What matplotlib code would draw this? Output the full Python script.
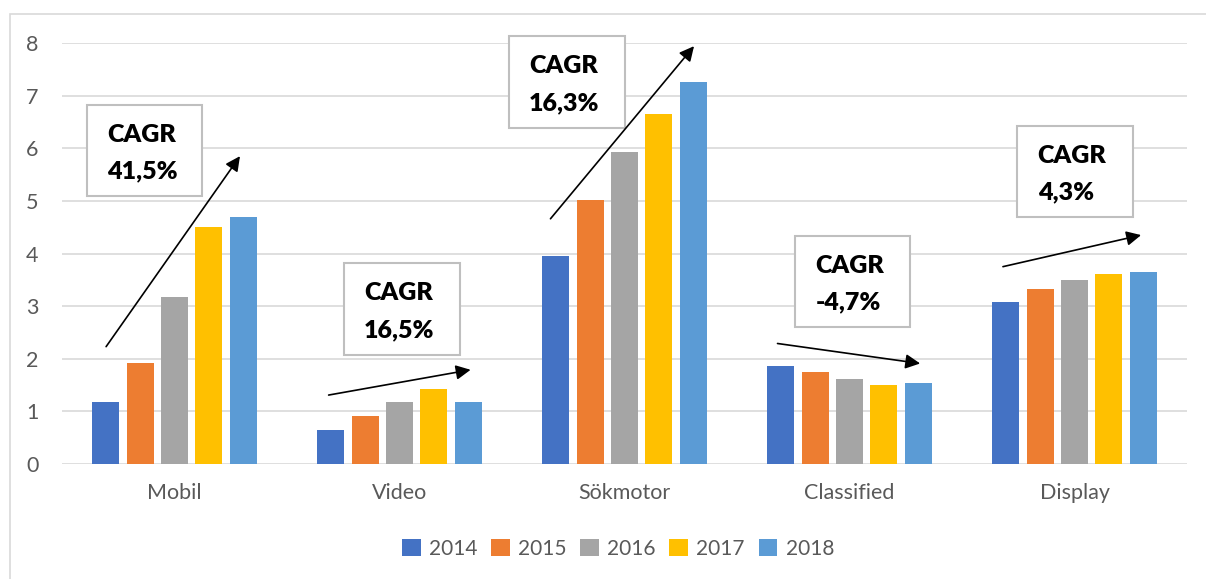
import matplotlib
matplotlib.use('Agg')
import matplotlib.pyplot as plt
import numpy as np
from matplotlib.patches import Rectangle

plt.rcParams['font.family'] = ['Lato', 'DejaVu Sans']

# Data
categories = ['Mobil', 'Video', 'Sökmotor', 'Classified', 'Display']
years = ['2014', '2015', '2016', '2017', '2018']
v2014 = [1.17, 0.65, 3.96, 1.86, 3.08]
v2015 = [1.91, 0.91, 5.02, 1.74, 3.32]
v2016 = [3.18, 1.17, 5.93, 1.62, 3.50]
v2017 = [4.50, 1.43, 6.65, 1.50, 3.61]
v2018 = [4.70, 1.18, 7.25, 1.53, 3.65]
cagr_labels = ['41,5%', '16,5%', '16,3%', '-4,7%', '4,3%']

series = [v2014, v2015, v2016, v2017, v2018]
colors = ['#4472C4', '#ED7D31', '#A5A5A5', '#FFC000', '#5B9BD5']

# Annotation layout (data coords): box (x0, x1, y_bottom, y_top), arrow (x0, y0, x1, y1)
boxes = [(-0.39, 0.122, 5.09, 6.82), (0.753, 1.269, 2.07, 3.82), (1.486, 2.002, 6.39, 8.14),
         (2.759, 3.270, 2.60, 4.33), (3.746, 4.262, 4.69, 6.42)]
arrows = [(-0.304, 2.23, 0.291, 5.85), (0.685, 1.31, 1.316, 1.79), (1.671, 4.66, 2.309, 7.94),
          (2.680, 2.29, 3.314, 1.91), (3.682, 3.75, 4.296, 4.35)]

fig = plt.figure(figsize=(12.06, 5.79), dpi=100)
ax = fig.add_axes([62 / 1206, 1 - 464 / 579, 1125 / 1206, 421 / 579])

# outer chart frame
fig.patches.append(Rectangle((10 / 1206, -0.1), 1.2, 1 - 14 / 579 + 0.1, transform=fig.transFigure,
                             fill=False, edgecolor='#d9d9d9', linewidth=1.2))

x = np.arange(len(categories))
step = 0.153
width = 0.12
for i, (vals, yr) in enumerate(zip(series, years)):
    ax.bar(x + (i - 2) * step, vals, width=width, color=colors[i], label=yr, zorder=2)

ax.set_xlim(-0.5, len(categories) - 0.5)
ax.set_ylim(0, 8)
ax.set_yticks(range(0, 9))
ax.set_xticks(x)
ax.set_xticklabels(categories)
ax.yaxis.grid(True, color='#d9d9d9', linewidth=1.2)
ax.set_axisbelow(True)
for s in ax.spines.values():
    s.set_visible(False)
ax.tick_params(axis='both', length=0, labelsize=15.5, colors='#595959')
ax.tick_params(axis='y', pad=17)
ax.tick_params(axis='x', pad=14)

# CAGR boxes and arrows
for (bx0, bx1, by0, by1), (ax0, ay0, ax1, ay1), lab in zip(boxes, arrows, cagr_labels):
    ax.add_patch(Rectangle((bx0, by0), bx1 - bx0, by1 - by0, facecolor='white',
                           edgecolor='#bfbfbf', linewidth=1.5, clip_on=False, zorder=4))
    h = by1 - by0
    tx = bx0 + 0.09
    ax.text(tx, by1 - 0.33 * h, 'CAGR', fontsize=18, fontweight='heavy', color='black',
            ha='left', va='center', zorder=5)
    ax.text(tx, by1 - 0.73 * h, lab, fontsize=18, fontweight='heavy', color='black',
            ha='left', va='center', zorder=5)
    ax.annotate('', xy=(ax1, ay1), xytext=(ax0, ay0), annotation_clip=False,
                arrowprops=dict(arrowstyle='-|>', mutation_scale=22, lw=1.2, color='black',
                                shrinkA=0, shrinkB=0), zorder=6)

fig.legend(loc='center', bbox_to_anchor=(618 / 1206, 1 - 549 / 579), ncol=5, frameon=False,
           fontsize=15, handlelength=0.9, handleheight=0.9, handletextpad=0.4,
           columnspacing=0.65, labelcolor='#595959')

fig.savefig('out.png', dpi=100)
